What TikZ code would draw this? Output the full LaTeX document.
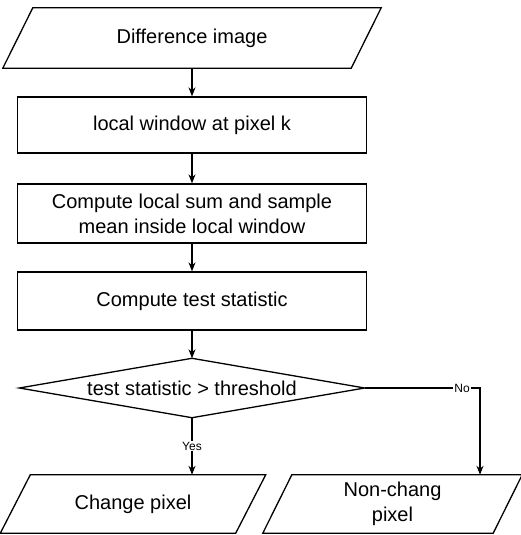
\documentclass[tikz,border=0pt]{standalone}
\usepackage{fontspec}
\setmainfont{Liberation Sans}
\usetikzlibrary{arrows.meta}
\begin{document}
\begin{tikzpicture}[x=1pt,y=-1pt,
  every node/.style={font=\fontsize{20}{25}\selectfont, align=center, inner sep=0pt},
  proc/.style={draw, line width=1.3pt, minimum width=349pt},
  iobox/.style={minimum height=58pt},
  shapeline/.style={line width=1.3pt, line join=miter},
  arr/.style={line width=1.3pt, -{Stealth[length=9pt,width=7pt]}},
  small/.style={font=\fontsize{12}{14}\selectfont, fill=white, inner sep=1pt}
]
\useasboundingbox (0,0) rectangle (520,535);

% input
\node[minimum width=348pt, minimum height=60pt] (diff) at (192,38) {Difference image};
\draw[shapeline] ([xshift=15pt]diff.north west) -- ([xshift=15pt]diff.north east)
  -- ([xshift=-15pt]diff.south east) -- ([xshift=-15pt]diff.south west) -- cycle;

\node[proc, minimum height=56pt] (win) at (192,125) {local window at pixel k};
\node[proc, minimum height=59pt] (sum) at (192,213.5) {Compute local sum and sample\\mean inside local window};
\node[proc, minimum height=58pt] (stat) at (192,301) {Compute test statistic};

% decision
\node[minimum width=345pt, minimum height=59pt] (dia) at (192,388) {test statistic > threshold};
\draw[shapeline] (dia.north) -- (dia.east) -- (dia.south) -- (dia.west) -- cycle;

% outputs
\node[iobox, minimum width=235pt] (chg) at (133,504) {Change pixel};
\draw[shapeline] ([xshift=15pt]chg.north west) -- ([xshift=15pt]chg.north east)
  -- ([xshift=-15pt]chg.south east) -- ([xshift=-15pt]chg.south west) -- cycle;

\node[iobox, minimum width=230pt] (non) at (392.5,504) {Non-chang\\pixel};
\draw[shapeline] ([xshift=14.5pt]non.north west) -- ([xshift=14.5pt]non.north east)
  -- ([xshift=-14.5pt]non.south east) -- ([xshift=-14.5pt]non.south west) -- cycle;

% connectors
\draw[arr] (diff.south) -- (win.north);
\draw[arr] (win.south) -- (sum.north);
\draw[arr] (sum.south) -- (stat.north);
\draw[arr] (stat.south) -- (dia.north);
\draw[arr] (dia.south) -- node[small, pos=0.5] (yes) {Yes} (dia.south |- chg.north);
\coordinate (nc) at (480,388);
\draw[arr] (dia.east) -- (nc) -- (nc |- non.north);
\node[small] (no) at (462,388) {No};
\end{tikzpicture}
\end{document}
